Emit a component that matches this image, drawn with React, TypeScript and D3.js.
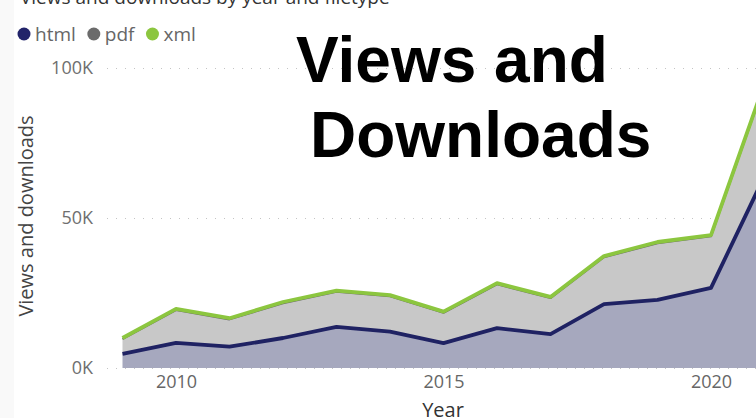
// @ts-nocheck
import React from "react";
import * as d3 from "d3";

// Views and downloads per year, in thousands
const years = [2009, 2010, 2011, 2012, 2013, 2014, 2015, 2016, 2017, 2018, 2019, 2020, 2021];
const html = [4.7, 8.4, 7.1, 10.0, 13.7, 12.1, 8.3, 13.3, 11.3, 21.3, 22.7, 26.7, 64.0];
const pdf = [4.9, 10.9, 9.1, 11.6, 11.7, 11.8, 10.1, 14.6, 12.0, 15.6, 18.9, 17.2, 30.6];
const xml = [0.4, 0.4, 0.4, 0.4, 0.4, 0.4, 0.4, 0.4, 0.4, 0.4, 0.4, 0.4, 0.4];

const seriesKeys = ["html", "pdf", "xml"];
const xTicks = [2010, 2015, 2020];
const yTicks = [0, 50, 100];

const lineColors = { html: "#1f2263", pdf: "#6b6b6b", xml: "#8cc63f" };
const fillColors = { html: "#a6a8be", pdf: "#c8c8c8", xml: "#c6e29f" };

const App = () => {
  const svgRef = React.useRef(null);
  const width = 756;
  const height = 418;

  React.useEffect(() => {
    const rows = years.map((y, i) => ({ year: y, html: html[i], pdf: pdf[i], xml: xml[i] }));
    const stacked = d3.stack().keys(seriesKeys)(rows);

    const xScale = d3.scaleLinear().domain([2009, 2021]).range([122.5, 764.5]);
    const yScale = d3.scaleLinear().domain([0, 100]).range([368, 68]);

    const svg = d3.select(svgRef.current);
    svg.selectAll("*").remove();

    const font = "'Open Sans', 'Noto Sans', sans-serif";

    svg.append("rect").attr("x", 0).attr("y", 0).attr("width", 14).attr("height", height).attr("fill", "#f9f9f9");

    // cut-off visual title
    svg.append("text")
      .attr("x", 20).attr("y", 4)
      .attr("font-family", font).attr("font-size", 19).attr("fill", "#333")
      .text("Views and downloads by year and filetype");

    // legend
    let lx = 24;
    seriesKeys.forEach((k) => {
      svg.append("circle").attr("cx", lx).attr("cy", 34).attr("r", 6.5).attr("fill", k === "html" ? "#22246a" : lineColors[k]);
      const t = svg.append("text")
        .attr("x", lx + 11).attr("y", 41)
        .attr("font-family", font).attr("font-size", 19).attr("fill", "#666")
        .text(k);
      lx += 11 + t.node().getComputedTextLength() + 18;
    });

    // y grid + labels
    const yAxis = d3.axisLeft(yScale).tickValues(yTicks).tickSize(-(width - 107)).tickFormat((d) => `${d}K`);
    const yAxisGroup = svg.append("g").attr("transform", "translate(107,0)").call(yAxis);
    yAxisGroup.select(".domain").remove();
    yAxisGroup.selectAll("line").attr("stroke", "#c4c4c4").attr("stroke-dasharray", "1 8");
    yAxisGroup.selectAll("text")
      .attr("x", -14)
      .attr("fill", "#6f6f6f")
      .attr("font-family", font)
      .attr("font-size", 18);

    // stacked areas
    const area = d3.area()
      .x((d) => xScale(d.data.year))
      .y0((d) => yScale(d[0]))
      .y1((d) => yScale(d[1]));
    svg.append("g").selectAll("path")
      .data(stacked)
      .enter()
      .append("path")
      .attr("fill", (s) => fillColors[s.key])
      .attr("d", area);

    // top lines of each series
    const line = d3.line()
      .x((d) => xScale(d.data.year))
      .y((d) => yScale(d[1]));
    svg.append("g").selectAll("path")
      .data(stacked)
      .enter()
      .append("path")
      .attr("fill", "none")
      .attr("stroke", (s) => lineColors[s.key])
      .attr("stroke-width", (s) => (s.key === "pdf" ? 2 : 3.8))
      .attr("stroke-linejoin", "round")
      .attr("d", line);

    // x axis labels
    const xAxis = d3.axisBottom(xScale).tickValues(xTicks).tickSize(0).tickFormat(d3.format("d"));
    const xAxisGroup = svg.append("g").attr("transform", "translate(0,372)").call(xAxis);
    xAxisGroup.select(".domain").remove();
    xAxisGroup.selectAll("text")
      .attr("fill", "#666")
      .attr("font-family", font)
      .attr("font-size", 18);

    // axis titles
    svg.append("text")
      .attr("x", 443).attr("y", 417)
      .attr("text-anchor", "middle")
      .attr("font-family", font).attr("font-size", 20).attr("fill", "#333")
      .text("Year");
    svg.append("text")
      .attr("transform", "translate(33,216) rotate(-90)")
      .attr("text-anchor", "middle")
      .attr("font-family", font).attr("font-size", 20).attr("fill", "#444")
      .text("Views and downloads");

    // overlay heading
    const heading = svg.append("g")
      .attr("font-family", "'Liberation Sans', Arial, sans-serif")
      .attr("font-weight", "bold")
      .attr("font-size", 64)
      .attr("fill", "#000");
    heading.append("text").attr("x", 296).attr("y", 82).text("Views and");
    heading.append("text").attr("x", 310).attr("y", 157).text("Downloads");
  }, []);

  return (
    <svg
      ref={svgRef}
      width={width}
      height={height}
      style={{ position: "absolute", left: 0, top: 0, background: "#fff" }}
    />
  );
};

export default App;
